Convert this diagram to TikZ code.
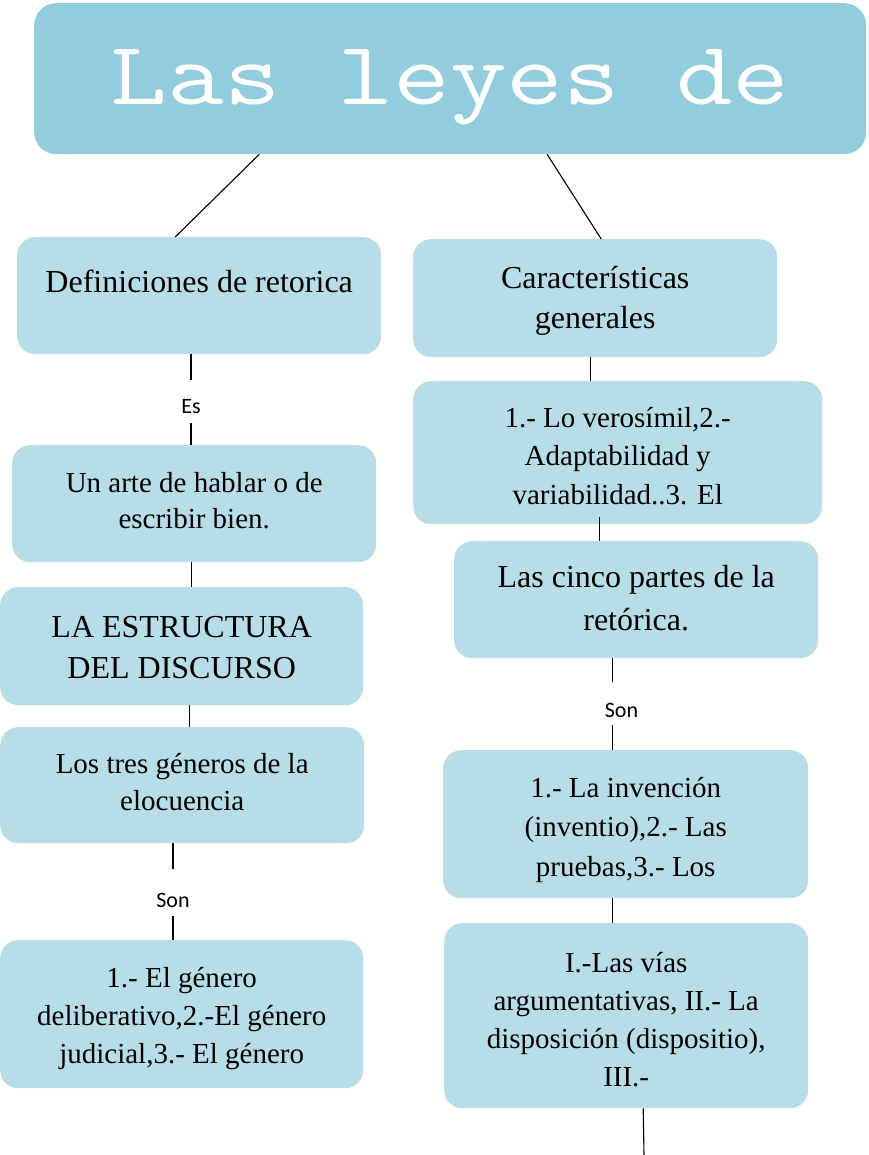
\documentclass[tikz,border=0pt]{standalone}
\usepackage{fontspec}
\setmainfont{Liberation Serif}
\newfontfamily\labfont{Carlito}
\definecolor{titlec}{HTML}{93CCDC}
\definecolor{boxc}{HTML}{B7DDE8}
\newcommand\tl[1]{\begin{tabular}[t]{@{}c@{}}#1\end{tabular}}
\tikzset{
 box/.style={rounded corners=18pt, fill=boxc, inner sep=0pt, anchor=north west},
 txt/.style={anchor=base, inner sep=0pt, text=black},
 lab/.style={inner sep=0pt, anchor=base, font=\labfont\fontsize{22}{26}\selectfont},
 conn/.style={line width=1.1pt, black}
}
\begin{document}
\begin{tikzpicture}[x=1pt,y=-1pt]
\useasboundingbox (0,0) rectangle (868,1155);
% title
\node[box, fill=titlec, rounded corners=22pt, minimum width=832pt, minimum height=151pt] (T) at (34,3) {};
\node[txt, font=\ttfamily\fontsize{90}{96}\selectfont, text=white] at ([yshift=-102pt]T.north) {\scalebox{1.22}[1]{Las leyes de}};
% left column
\node[box, minimum width=364pt, minimum height=117pt] (A) at (17,237) {};
\node[txt, font=\fontsize{32}{40}\selectfont] at ([yshift=-55pt]A.north) {\tl{Definiciones de retorica}};
\node[box, minimum width=364pt, minimum height=117pt] (B) at (12,445) {};
\node[txt, font=\fontsize{29}{36}\selectfont] at ([yshift=-47pt]B.north) {\tl{Un arte de hablar o de\\escribir bien.}};
\node[box, minimum width=363pt, minimum height=118pt] (C) at (0,587) {};
\node[txt, font=\fontsize{32}{41}\selectfont] at ([yshift=-50pt]C.north) {\tl{LA ESTRUCTURA\\DEL DISCURSO}};
\node[box, minimum width=364pt, minimum height=116pt] (D) at (0,727) {};
\node[txt, font=\fontsize{29}{37}\selectfont] at ([yshift=-46pt]D.north) {\tl{Los tres géneros de la\\elocuencia}};
\node[box, minimum width=363pt, minimum height=148pt] (E) at (0,940) {};
\node[txt, font=\fontsize{29}{38}\selectfont] at ([yshift=-47pt]E.north) {\tl{1.- El género\\deliberativo,2.-El género\\judicial,3.- El género}};
% right column
\node[box, minimum width=364pt, minimum height=118pt] (F) at (413,239) {};
\node[txt, font=\fontsize{32}{40}\selectfont] at ([yshift=-49pt]F.north) {\tl{Características\\generales}};
\node[box, minimum width=409pt, minimum height=143pt] (G) at (413,381) {};
\node[txt, font=\fontsize{29}{38.5}\selectfont] at ([yshift=-46pt]G.north) {\tl{1.- Lo verosímil,2.-\\Adaptabilidad y\\variabilidad..3. El}};
\node[box, minimum width=364pt, minimum height=117pt] (H) at (454,541) {};
\node[txt, font=\fontsize{32}{43}\selectfont] at ([yshift=-46pt]H.north) {\tl{Las cinco partes de la\\retórica.}};
\node[box, minimum width=365pt, minimum height=148pt] (I) at (443,750) {};
\node[txt, font=\fontsize{29}{39.5}\selectfont] at ([yshift=-47pt]I.north) {\tl{1.- La invención\\(inventio),2.- Las\\pruebas,3.- Los}};
\node[box, minimum width=364pt, minimum height=185pt] (J) at (444,923) {};
\node[txt, font=\fontsize{29}{38.3}\selectfont] at ([yshift=-49pt]J.north) {\tl{I.-Las vías\\argumentativas, II.- La\\disposición (dispositio),\\III.-}};
% labels
\node[lab, text height=33pt, text depth=10pt] (es) at (191,413) {Es};
\node[lab, text height=38pt, text depth=9pt] (sonl) at (173,907) {Son};
\node[lab, text height=35pt, text depth=8pt] (sonr) at (621.5,717) {Son};
\coordinate (endc) at (644,1155);
% connectors
\draw[conn] ([xshift=-191pt]T.south) -- ([xshift=-24pt]A.north);
\draw[conn] ([xshift=97pt]T.south) -- ([xshift=6pt]F.north);
\draw[conn] (A.south -| es) -- (es.north);
\draw[conn] (es.south) -- (B.north -| es);
\draw[conn] ([xshift=-3pt]B.south) -- ([xshift=9.5pt]C.north);
\draw[conn] ([xshift=7.5pt]C.south) -- ([xshift=7pt]D.north);
\draw[conn] (D.south -| sonl) -- (sonl.north);
\draw[conn] (sonl.south) -- (E.north -| sonl);
\draw[conn] ([xshift=-5pt]F.south) -- ([xshift=-27.5pt]G.north);
\draw[conn] ([xshift=-18.5pt,yshift=7pt]G.south) -- ([xshift=-37pt]H.north);
\draw[conn] ([xshift=-24pt]H.south) -- ([xshift=-24pt]H.south |- sonr.north);
\draw[conn] ([xshift=-13.5pt]I.north |- sonr.south) -- ([xshift=-13.5pt]I.north);
\draw[conn] ([xshift=-13.5pt]I.south) -- ([xshift=-14pt]J.north);
\draw[conn] ([xshift=17pt]J.south) -- (endc);
\end{tikzpicture}
\end{document}
